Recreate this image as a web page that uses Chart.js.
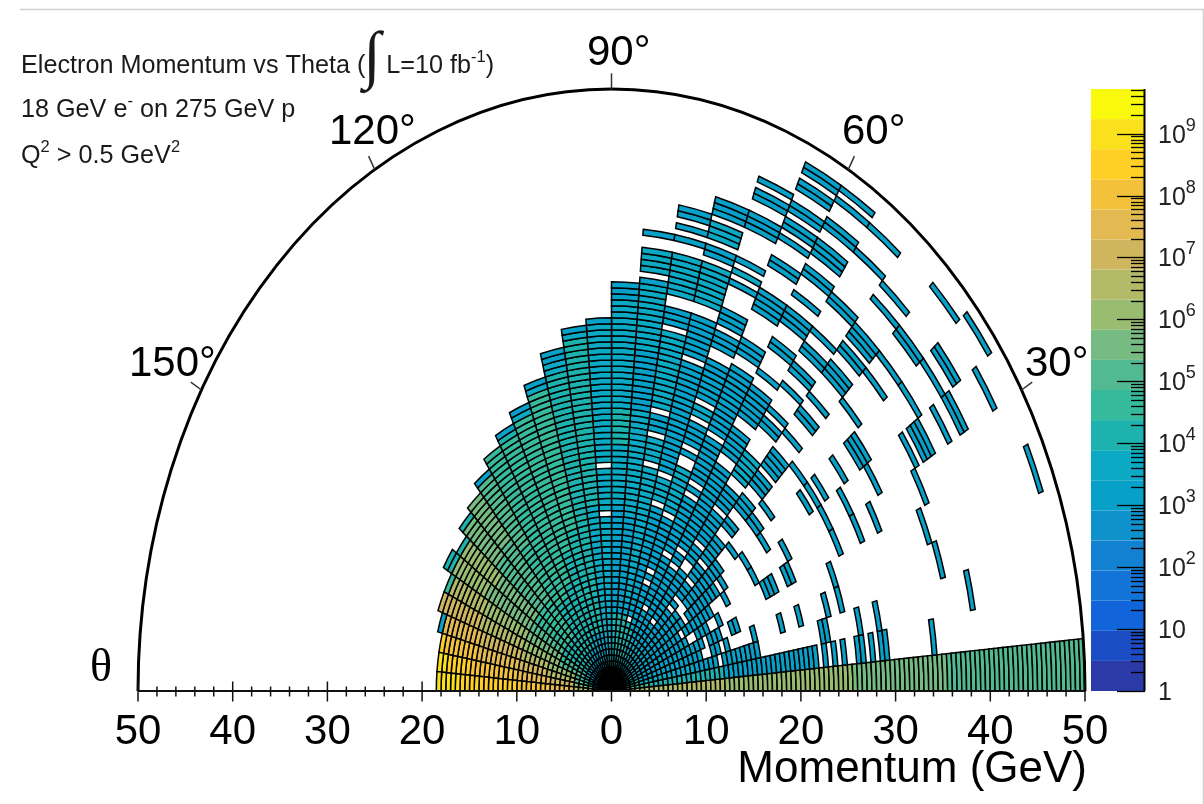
<!DOCTYPE html>
<html>
<head>
<meta charset="utf-8">
<title>Electron Momentum vs Theta</title>
<script src="https://cdn.jsdelivr.net/npm/chart.js@4/dist/chart.umd.min.js"></script>
<style>
  html, body { margin: 0; padding: 0; background: #fff; overflow: hidden; }
  canvas { display: block; }
</style>
</head>
<body>
<canvas id="polarChart" width="1204" height="804"></canvas>
<script>
//Data Info
//every row is one 5 degree theta bin, entries are [first p bin, last p bin, log10(counts)], p bins are 0.5 GeV wide
const thetaStep = 5;
const momentumStep = 0.5;

const theta000 = [[0,23,6.5],[24,50,6.0],[51,70,5.6],[71,99,5.1]];
const theta005 = [[0,7,5.1],[8,23,4.1],[24,43,3.1],[45,45,3.1],[47,47,3.1],[49,49,3.1],[52,53,3.1],[55,55,3.1],[57,58,3.1],[68,68,3.1]];
const theta010 = [[0,5,4.6],[6,17,3.6],[18,22,3.1],[24,31,3.1],[45,46,3.1],[53,53,3.1],[57,57,3.1],[77,77,3.1]];
const theta015 = [[0,5,4.1],[6,19,3.1],[22,23,3.1],[25,25,3.1],[31,31,3.1],[37,37,3.1],[41,41,3.1],[47,47,3.1],[50,50,3.1],[72,72,3.1]];
const theta020 = [[0,5,3.6],[6,20,3.1],[22,24,3.1],[27,28,3.1],[50,50,3.1],[71,71,3.1],[96,96,3.1]];
const theta025 = [[0,5,3.6],[6,17,3.1],[20,22,3.1],[25,25,3.1],[36,38,3.1],[41,42,3.1],[53,53,3.1],[58,58,3.1],[62,62,3.1],[73,73,3.1]];
const theta030 = [[0,6,3.6],[7,16,3.1],[18,24,3.1],[28,28,3.1],[35,35,3.1],[43,43,3.1],[53,53,3.1],[58,58,3.1],[65,65,3.1],[74,74,3.1],[76,78,3.1],[82,82,3.1],[85,86,3.1],[93,93,3.1]];
const theta035 = [[0,6,3.6],[7,18,3.1],[20,27,3.1],[29,29,3.1],[35,35,3.1],[40,40,3.1],[51,51,3.1],[53,53,3.1],[55,55,3.1],[60,60,3.1],[64,66,3.1],[79,79,3.1],[85,85,3.1],[88,89,3.1],[97,97,3.1]];
const theta040 = [[0,7,3.6],[8,18,3.1],[21,30,3.1],[34,34,3.1],[40,41,3.1],[44,44,3.1],[53,53,3.1],[68,68,3.1],[75,75,3.1],[79,79,3.1],[84,85,3.1],[95,95,3.1]];
const theta045 = [[0,8,3.6],[9,17,3.1],[19,19,3.1],[21,23,3.1],[25,27,3.1],[29,33,3.1],[36,37,3.1],[40,42,3.1],[45,47,3.1],[49,52,3.1],[56,56,3.1],[60,61,3.1],[64,64,3.1],[69,71,3.1],[74,75,3.1],[77,79,3.1],[85,85,3.1],[88,88,3.1]];
const theta050 = [[0,8,3.6],[9,13,3.1],[15,24,3.1],[27,29,3.1],[31,36,3.1],[38,41,3.1],[44,48,3.6],[54,55,3.1],[57,57,3.1],[62,62,3.1],[65,66,3.1],[69,70,3.1],[73,73,3.1],[79,80,3.1],[89,89,3.1],[94,94,3.1]];
const theta055 = [[0,9,3.6],[10,23,3.1],[25,26,3.1],[28,43,3.1],[46,50,3.1],[53,58,3.1],[61,61,3.1],[66,67,3.1],[71,73,3.1],[76,76,3.1],[80,81,3.1],[84,86,3.1],[89,90,3.1],[94,94,3.1],[96,96,3.1]];
const theta060 = [[0,9,3.6],[10,14,3.1],[16,24,3.1],[26,35,3.1],[37,37,3.1],[39,46,3.1],[48,59,3.1],[62,64,3.1],[70,73,3.1],[78,79,3.1],[83,83,3.1],[85,86,3.1],[88,89,3.1],[92,93,3.1],[95,96,3.1]];
const theta065 = [[0,10,4.1],[11,18,3.1],[20,20,3.1],[22,30,3.1],[32,39,3.6],[42,42,3.1],[44,47,3.1],[49,50,3.6],[52,58,3.1],[61,63,3.1],[65,67,3.1],[72,72,3.1],[74,74,3.6],[76,76,3.1],[82,84,3.1],[87,88,3.1],[90,90,3.1]];
const theta070 = [[0,11,4.1],[13,31,3.1],[33,36,3.6],[38,56,3.1],[58,64,3.1],[67,73,3.6],[75,76,3.1],[78,80,3.6],[82,84,3.1]];
const theta075 = [[0,12,4.1],[13,37,3.6],[39,42,3.6],[44,46,3.1],[48,60,3.6],[62,64,3.1],[67,73,3.6],[76,76,3.1],[78,78,3.1],[80,81,3.1]];
const theta080 = [[0,12,4.1],[13,28,3.1],[29,46,3.6],[47,56,3.1],[57,67,3.6],[68,68,3.1],[70,73,3.6],[76,76,3.1]];
const theta085 = [[0,12,4.1],[13,30,3.1],[31,40,3.6],[41,46,4.1],[47,56,3.6],[57,64,3.6],[65,67,3.1]];
const theta090 = [[0,28,3.6],[30,36,3.6],[38,50,3.6],[51,60,3.6],[61,61,3.1]];
const theta095 = [[0,30,3.6],[31,58,4.1],[59,59,3.6],[60,60,3.1]];
const theta100 = [[0,9,3.1],[10,53,4.1],[54,55,3.6],[56,57,3.1]];
const theta105 = [[0,9,3.1],[10,27,4.1],[28,51,4.6],[52,52,3.6],[53,53,3.1]];
const theta110 = [[0,9,3.1],[10,24,4.1],[25,48,4.6],[49,49,3.6],[50,50,3.1]];
const theta115 = [[0,7,3.1],[8,19,4.1],[20,46,4.6],[47,47,4.1],[48,48,3.1]];
const theta120 = [[0,7,3.1],[8,17,4.1],[18,46,4.6]];
const theta125 = [[0,7,3.1],[8,17,4.1],[18,29,4.6],[30,43,5.1],[44,44,3.1]];
const theta130 = [[0,5,3.1],[6,11,4.1],[12,19,4.6],[20,32,5.1],[33,42,5.6]];
const theta135 = [[0,5,3.1],[6,11,4.1],[12,19,4.6],[20,31,5.1],[32,40,5.6],[41,41,4.1]];
const theta140 = [[0,5,3.1],[6,11,4.1],[12,19,4.6],[20,29,5.6],[30,38,6.0],[39,39,4.1]];
const theta145 = [[0,5,3.6],[6,11,4.1],[12,19,5.1],[20,30,5.6],[31,38,6.0],[39,40,4.1]];
const theta150 = [[0,5,3.6],[6,11,4.6],[12,19,5.6],[20,29,6.0],[30,37,6.5],[38,38,4.6]];
const theta155 = [[0,5,3.6],[6,11,5.1],[12,19,6.0],[20,29,6.5],[30,38,7.0]];
const theta160 = [[0,3,3.1],[4,7,4.6],[8,13,6.0],[14,19,6.5],[20,28,7.0],[29,36,7.5],[37,37,3.1]];
const theta165 = [[0,3,3.1],[4,7,5.1],[8,13,6.5],[14,19,7.0],[20,28,7.5],[29,35,8.0],[36,36,8.5]];
const theta170 = [[0,3,3.6],[4,7,5.6],[8,12,7.0],[13,19,7.5],[20,29,8.0],[30,34,8.5],[35,36,8.9]];
const theta175 = [[0,3,4.1],[4,7,6.5],[8,12,7.5],[13,19,8.0],[20,31,8.5],[32,36,8.9]];

const thetaRows = [
  theta000, theta005, theta010, theta015, theta020, theta025, theta030, theta035, theta040,
  theta045, theta050, theta055, theta060, theta065, theta070, theta075, theta080, theta085,
  theta090, theta095, theta100, theta105, theta110, theta115, theta120, theta125, theta130,
  theta135, theta140, theta145, theta150, theta155, theta160, theta165, theta170, theta175
];

//Axis ticks and labels
const momentumTicks = [-50,-40,-30,-20,-10,0,10,20,30,40,50];
const thetaTicks = [30,60,90,120,150];
const colorDecades = [0,1,2,3,4,5,6,7,8,9];
const colorMaxLog = 9.72;
const bandColors = [
  "#2a3aa6","#1a4cc4","#1264da","#1274d6","#1381d2","#0f92cc","#07a0c8","#0ca9c4","#1eb2ae","#35ba9c",
  "#52ba92","#76bc82","#98bc70","#b2ba68","#cfb65e","#e3b951","#f4c23a","#fecf24","#fbe01c","#f9f90e"
];

function bandColor(logValue){
  let i = Math.floor(logValue / (colorMaxLog / bandColors.length));
  return bandColors[Math.min(i, bandColors.length - 1)];
}

//Cells, one point per filled bin
const cellData = [];
thetaRows.forEach(function (row, r) {
  row.forEach(function (run) {
    for (let k = run[0]; k <= run[1]; k++) {
      const p = (k + 0.5) * momentumStep;
      const t = (r + 0.5) * thetaStep * Math.PI / 180;
      cellData.push({x: p * Math.cos(t), y: p * Math.sin(t), bin: k, row: r, logValue: run[2]});
    }
  });
});

function textRuns(ctx, x, y, runs){
  //runs are [text, font px, raise]
  runs.forEach(function (run) {
    ctx.font = run[1] + 'px "Liberation Sans"';
    ctx.fillText(run[0], x, y - run[2]);
    x += ctx.measureText(run[0]).width;
  });
  return x;
}

//Polar cells as ellipse sections
const polarCells = {
  id: 'polarCells',
  afterDatasetsDraw(chart) {
    const {ctx, scales: {x, y}} = chart;
    const cx = x.getPixelForValue(0), cy = y.getPixelForValue(0);
    const sx = x.getPixelForValue(1) - cx, sy = cy - y.getPixelForValue(1);
    ctx.save();
    ctx.strokeStyle = '#000';
    ctx.lineWidth = 1.5;
    chart.data.datasets[0].data.forEach(function (cell) {
      const pIn = cell.bin * momentumStep, pOut = pIn + momentumStep;
      const t0 = cell.row * thetaStep * Math.PI / 180;
      const t1 = (cell.row + 1) * thetaStep * Math.PI / 180;
      ctx.beginPath();
      ctx.ellipse(cx, cy, pOut * sx, pOut * sy, 0, -t1, -t0, false);
      if (pIn > 0) ctx.ellipse(cx, cy, pIn * sx, pIn * sy, 0, -t0, -t1, true);
      else ctx.lineTo(cx, cy);
      ctx.closePath();
      ctx.fillStyle = bandColor(cell.logValue);
      ctx.fill();
      ctx.stroke();
    });
    ctx.restore();
  }
};

//Frame, ticks, color bar and all free text
const polarFrame = {
  id: 'polarFrame',
  afterDraw(chart) {
    const {ctx, scales: {x, y, z}} = chart;
    const cx = x.getPixelForValue(0), cy = y.getPixelForValue(0);
    const sx = x.getPixelForValue(1) - cx, sy = cy - y.getPixelForValue(1);
    ctx.save();

    //page edge of the screenshot
    ctx.strokeStyle = '#d0d0d0';
    ctx.lineWidth = 1.5;
    ctx.beginPath();
    ctx.moveTo(20, 9.5);
    ctx.lineTo(1203.5, 9.5);
    ctx.lineTo(1203.5, 804);
    ctx.stroke();

    //outer half ellipse
    ctx.strokeStyle = '#000';
    ctx.lineWidth = 3;
    ctx.beginPath();
    ctx.ellipse(cx, cy, 50 * sx, 50 * sy, 0, Math.PI, 2 * Math.PI, false);
    ctx.stroke();

    //theta ticks
    ctx.strokeStyle = '#333';
    ctx.lineWidth = 1.5;
    thetaTicks.forEach(function (deg) {
      const t = deg * Math.PI / 180;
      ctx.beginPath();
      ctx.moveTo(x.getPixelForValue(50 * Math.cos(t)), y.getPixelForValue(50 * Math.sin(t)));
      ctx.lineTo(x.getPixelForValue(51.3 * Math.cos(t)), y.getPixelForValue(51.3 * Math.sin(t)));
      ctx.stroke();
    });

    //momentum axis, ticks go both ways
    ctx.strokeStyle = '#111';
    ctx.lineWidth = 2;
    ctx.beginPath();
    ctx.moveTo(x.left, cy);
    ctx.lineTo(x.right, cy);
    ctx.stroke();
    ctx.lineWidth = 1.5;
    x.ticks.forEach(function (tick) {
      const px = x.getPixelForValue(tick.value);
      const major = momentumTicks.includes(tick.value);
      ctx.beginPath();
      //no upward tick over the filled cells
      const covered = tick.value > -18.5 && tick.value < 50;
      ctx.moveTo(px, cy + (major ? 10.5 : 5.5));
      ctx.lineTo(px, covered ? cy : cy - (major ? 9.5 : 4.5));
      ctx.stroke();
    });

    //color bar
    bandColors.forEach(function (color, i) {
      const y0 = z.getPixelForValue(Math.pow(10, i * colorMaxLog / bandColors.length));
      const y1 = z.getPixelForValue(Math.pow(10, (i + 1) * colorMaxLog / bandColors.length));
      ctx.fillStyle = color;
      ctx.fillRect(1091, y1, 54, y0 - y1);
    });
    ctx.strokeStyle = '#000';
    ctx.lineWidth = 2;
    ctx.beginPath();
    ctx.moveTo(1144.5, z.top);
    ctx.lineTo(1144.5, z.bottom);
    ctx.stroke();
    ctx.lineWidth = 1.3;
    colorDecades.forEach(function (d) {
      for (let m = 1; m <= 9; m++) {
        const v = m * Math.pow(10, d);
        if (Math.log10(v) > colorMaxLog) continue;
        const py = Math.round(z.getPixelForValue(v)) + 0.5;
        ctx.beginPath();
        ctx.moveTo(1145, py);
        ctx.lineTo(m === 1 ? 1117 : 1131, py);
        ctx.stroke();
      }
    });

    //color bar labels
    ctx.fillStyle = '#222';
    ctx.textBaseline = 'alphabetic';
    ctx.textAlign = 'left';
    colorDecades.forEach(function (d) {
      const py = z.getPixelForValue(Math.pow(10, d));
      if (d === 0) textRuns(ctx, 1158, py + 9, [['1', 25, 0]]);
      else if (d === 1) textRuns(ctx, 1158, py + 9, [['10', 25, 0]]);
      else textRuns(ctx, 1158, py + 9, [['10', 25, 0], [String(d), 18, 12]]);
    });

    //header text
    ctx.fillStyle = '#1a1a1a';
    let tx = textRuns(ctx, 21, 73, [['Electron Momentum vs Theta (', 25.2, 0]]);
    ctx.font = '64px "Liberation Serif"';
    ctx.fillText('\u222B', tx - 2, 76);
    textRuns(ctx, tx + 21, 73, [['L=10 fb', 25.2, 0], ['-1', 16.5, 11], [')', 25.2, 0]]);
    textRuns(ctx, 21, 117, [['18 GeV e', 25.2, 0], ['-', 16.5, 11], [' on 275 GeV p', 25.2, 0]]);
    textRuns(ctx, 21, 163, [['Q', 25.2, 0], ['2', 16.5, 11], [' > 0.5 GeV', 25.2, 0], ['2', 16.5, 11]]);

    //angle labels
    ctx.fillStyle = '#000';
    textRuns(ctx, 587, 65, [['90\u00B0', 42, 0]]);
    textRuns(ctx, 329, 144, [['120\u00B0', 42, 0]]);
    textRuns(ctx, 842, 144, [['60\u00B0', 42, 0]]);
    textRuns(ctx, 129, 376, [['150\u00B0', 42, 0]]);
    textRuns(ctx, 1025, 376, [['30\u00B0', 42, 0]]);
    ctx.font = '46px "Liberation Serif"';
    ctx.fillText('\u03B8', 90, 681);

    //axis title
    ctx.textAlign = 'right';
    ctx.font = '44px "Liberation Sans"';
    ctx.fillText('Momentum (GeV)', 1087, 782);
    ctx.restore();
  }
};

//Chart
var polarChart = new Chart("polarChart", {
  type: "scatter",
  data: {
    datasets: [{
      label: 'Electron counts',
      data: cellData,
      pointRadius: 0,
      showLine: false
    }]
  },
  options: {
    responsive: false,
    animation: false,
    layout: {
      padding: {left: 138, right: 119, top: 89, bottom: 48}
    },
    plugins: {
      legend: {display: false},
      tooltip: {enabled: false}
    },
    scales: {
      x: {
        type: 'linear',
        min: -50,
        max: 50,
        grid: {display: false},
        border: {display: false},
        afterFit(scale) { scale.height = 65; },
        ticks: {
          stepSize: 2,
          autoSkip: false,
          maxRotation: 0,
          padding: 8,
          color: '#000',
          font: {family: '"Liberation Sans"', size: 42},
          callback: function (value) {
            return momentumTicks.includes(value) ? String(Math.abs(value)) : '';
          }
        }
      },
      y: {
        type: 'linear',
        min: 0,
        max: 50,
        display: false
      },
      z: {
        type: 'logarithmic',
        position: 'right',
        min: 1,
        max: Math.pow(10, colorMaxLog),
        display: false
      }
    }
  },
  plugins: [polarCells, polarFrame]
});
</script>
</body>
</html>
